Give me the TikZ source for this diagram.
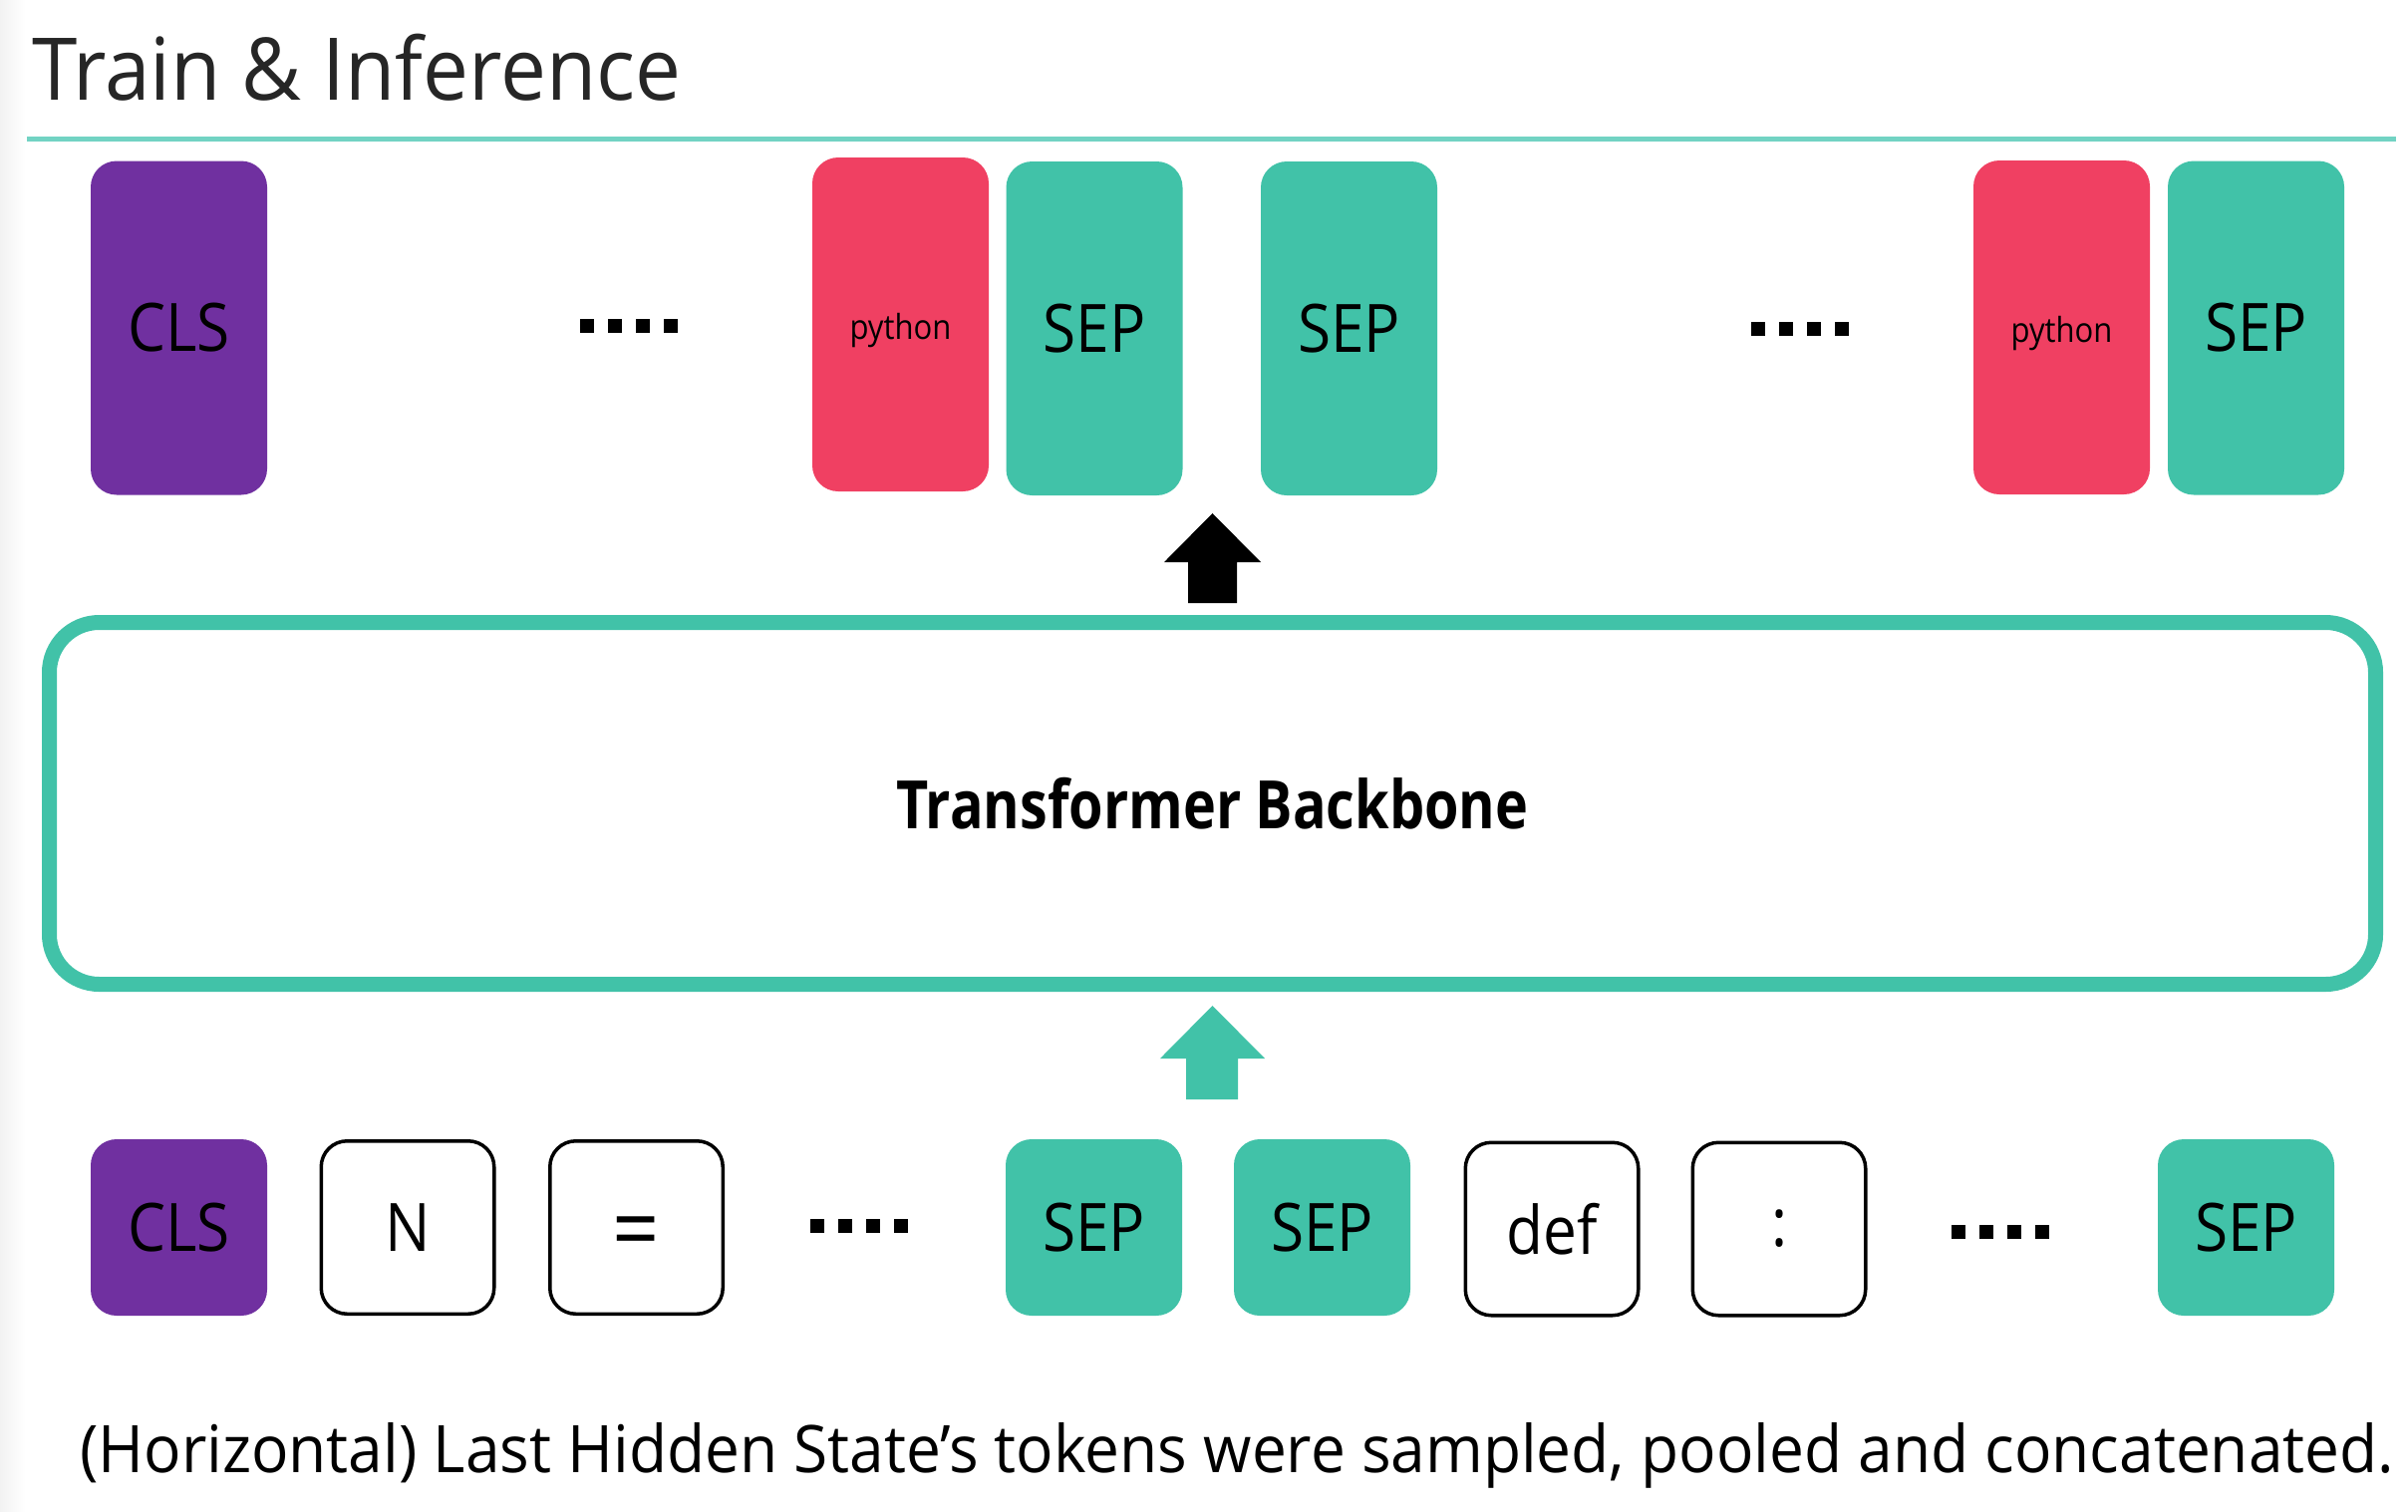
\documentclass[tikz,border=0pt]{standalone}
\usepackage{fontspec}
\setmainfont{Open Sans}[FakeStretch=0.9]
\newfontfamily\titlefont{Open Sans}[FakeStretch=0.943]
\newfontfamily\capfont{Open Sans}[FakeStretch=0.945]
\newfontfamily\bbfont{Open Sans}[FakeStretch=0.832]
\definecolor{tpurple}{HTML}{7030A0}
\definecolor{tred}{HTML}{F04062}
\definecolor{tteal}{HTML}{41C2A8}
\definecolor{tline}{HTML}{72D3C3}
\tikzset{
  tok/.style={rounded corners=26pt, minimum width=177pt, inner sep=0pt, text=black,
    font=\fontsize{67}{80}\selectfont},
  tallbox/.style={tok, minimum height=335pt},
  shortbox/.style={tok, minimum height=177pt},
  clsbox/.style={fill=tpurple},
  sepbox/.style={fill=tteal},
  pybox/.style={fill=tred},
  pytext/.style={inner sep=0pt, font=\fontsize{34.5}{40}\selectfont, yshift=-6pt},
  plainbox/.style={draw=black, line width=3.5pt, fill=white, minimum width=173.5pt, minimum height=173.5pt},
  dotrow/.pic={\foreach \i in {0,1,2,3} \fill[black] (\i*28,-7) rectangle ++(14,14);},
}
\begin{document}
\begin{tikzpicture}[x=1pt,y=-1pt]
\useasboundingbox (0,0) rectangle (2416,1516);
\fill[white] (0,0) rectangle (2416,1516);
\shade[left color=black!5, right color=white] (0,0) rectangle (26,1516);
% title
\node[anchor=base west, inner sep=0pt, font=\titlefont\fontsize{86.8}{100}\selectfont, text=black!85] (title) at (32,100) {Train \& Inference};
\coordinate (lineL) at (27,139.5);
\coordinate (lineR) at (2404,139.5);
\draw[tline, line width=5pt] (lineL) -- (lineR);
% top row
\node[tallbox, clsbox] (tcls) at (179.5,329) {CLS};
\pic at (582,327) {dotrow};
\node[tallbox, pybox] (tpy1) at (903.5,325.5) {};
\node[pytext] (tpy1t) at (tpy1) {python};
\node[tallbox, sepbox] (tsep1) at (1098,329.5) {SEP};
\node[tallbox, sepbox] (tsep2) at (1353.5,329.5) {SEP};
\pic at (1757,330) {dotrow};
\node[tallbox, pybox] (tpy2) at (2068.5,328.5) {};
\node[pytext] (tpy2t) at (tpy2) {python};
\node[tallbox, sepbox] (tsep3) at (2263.5,329) {SEP};
% backbone
\node[draw=tteal, line width=15pt, rounded corners=50pt, minimum width=2334pt, minimum height=363pt, inner sep=0pt,
  font=\bbfont\bfseries\fontsize{67}{80}\selectfont] (bb) at (1216.5,806) {Transformer Backbone};
% arrows
\fill[black] (1216.5,515) -- (1265,564) -- (1241,564) -- (1241,605) -- (1192,605) -- (1192,564) -- (1168,564) -- cycle;
\fill[tteal] (1216.5,1009) -- (1269,1062) -- (1242,1062) -- (1242,1103) -- (1190,1103) -- (1190,1062) -- (1164,1062) -- cycle;
% bottom row
\node[shortbox, clsbox] (bcls) at (179.5,1231.5) {CLS};
\node[shortbox, plainbox] (bn) at (409,1231.5) {N};
\node[shortbox, plainbox] (beq) at (638.5,1231.5) {};
\node[inner sep=0pt, font=\fontsize{92}{100}\selectfont, yshift=-12pt] (beqt) at (beq) {=};
\pic at (813,1230) {dotrow};
\node[shortbox, sepbox] (bsep1) at (1097.5,1231.5) {SEP};
\node[shortbox, sepbox] (bsep2) at (1326.5,1231.5) {SEP};
\node[shortbox, plainbox] (bdef) at (1557,1233) {def};
\node[shortbox, plainbox] (bcol) at (1785,1233) {:};
\pic at (1958,1236) {dotrow};
\node[shortbox, sepbox] (bsep3) at (2253.5,1231.5) {SEP};
% caption
\node[anchor=base west, inner sep=0pt, font=\capfont\fontsize{65.8}{80}\selectfont] (cap) at (80,1477) {(Horizontal) Last Hidden State’s tokens were sampled, pooled and concatenated.};
\end{tikzpicture}
\end{document}
